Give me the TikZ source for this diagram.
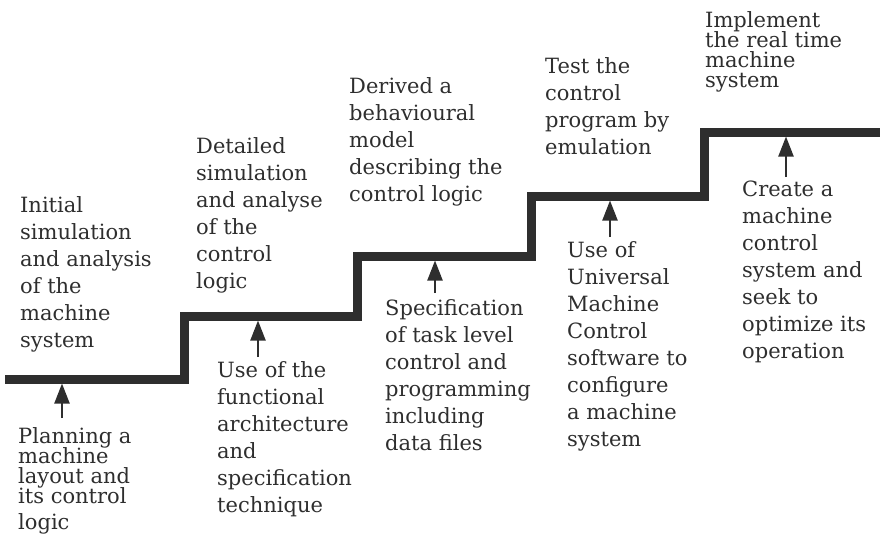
\documentclass[tikz,border=0pt]{standalone}
\usepackage{fontspec}
\setmainfont{DejaVu Serif}
\usetikzlibrary{arrows.meta}
\definecolor{ink}{HTML}{2E2E2E}
\begin{document}
\begin{tikzpicture}[x=1pt,y=-1pt,
  lbl/.style={anchor=north west, inner sep=0pt, align=left, text=ink,
    font=\fontsize{21}{27}\selectfont},
  tight/.style={font=\fontsize{21}{20}\selectfont},
  stair/.style={draw=ink, line width=9pt, miter limit=10},
  up/.style={draw=ink, line width=2.2pt, -{Triangle[width=15pt,length=20pt]}}]
\lineskiplimit=-50pt\relax
\useasboundingbox (0,0) rectangle (880,541);
% staircase
\draw[stair] (5,379) -- (184,379) -- (184,316) -- (357,316) -- (357,256)
  -- (531,256) -- (531,196) -- (704,196) -- (704,132) -- (880,132);
\coordinate (t1) at (62,383.5);
\coordinate (t2) at (258,320.5);
\coordinate (t3) at (435,260.5);
\coordinate (t4) at (610,200.5);
\coordinate (t5) at (786,136.5);
% labels above
\node[lbl] (a1) at (20,196) {Initial\\simulation\\and analysis\\of the\\machine\\system};
\node[lbl] (a2) at (196,137) {Detailed\\simulation\\and analyse\\of the\\control\\logic};
\node[lbl] (a3) at (349,77) {Derived a\\behavioural\\model\\describing the\\control logic};
\node[lbl] (a4) at (545,57) {Test the\\control\\program by\\emulation};
\node[lbl,tight] (a5) at (705,11) {Implement\\the real time\\machine\\system};
% labels below
\node[lbl,tight] (b1) at (18,427) {Planning a\\machine\\layout and\\its control\\[6pt]logic};
\node[lbl] (b2) at (217,361) {Use of the\\functional\\architecture\\and\\specification\\technique};
\node[lbl] (b3) at (385,299) {Specification\\of task level\\control and\\programming\\including\\data files};
\node[lbl] (b4) at (567,241) {Use of\\Universal\\Machine\\Control\\software to\\configure\\a machine\\system};
\node[lbl] (b5) at (742,181) {Create a\\machine\\control\\system and\\seek to\\optimize its\\operation};
% arrows
\draw[up] (b1.north -| t1) ++(0,-9) -- (t1);
\draw[up] (b2.north -| t2) ++(0,-4) -- (t2);
\draw[up] (b3.north -| t3) ++(0,-6) -- (t3);
\draw[up] (b4.north -| t4) ++(0,-4) -- (t4);
\draw[up] (b5.north -| t5) ++(0,-4) -- (t5);
\end{tikzpicture}
\end{document}
